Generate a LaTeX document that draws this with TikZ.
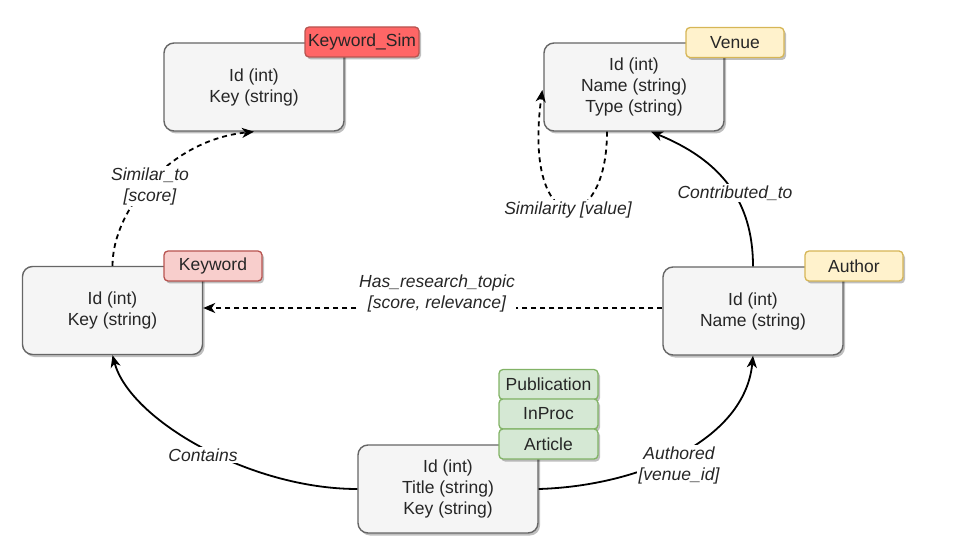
\documentclass[tikz,border=0pt]{standalone}
\usepackage{fontspec}
\setmainfont{Liberation Sans}
\usetikzlibrary{arrows.meta,shadows,calc}
\definecolor{entfill}{HTML}{F5F5F5}
\definecolor{entdraw}{HTML}{666666}
\definecolor{redfill}{HTML}{FF6666}
\definecolor{pinkfill}{HTML}{F8CECC}
\definecolor{reddraw}{HTML}{B85450}
\definecolor{yelfill}{HTML}{FFF2CC}
\definecolor{yeldraw}{HTML}{D6B656}
\definecolor{grnfill}{HTML}{D5E8D4}
\definecolor{grndraw}{HTML}{82B366}
\begin{document}
\begin{tikzpicture}[x=1pt,y=-1pt,
  every node/.style={font=\fontsize{17.5}{21}\selectfont, text=black!85},
  shad/.style={drop shadow={shadow xshift=2pt,shadow yshift=-2.5pt,opacity=0.25,fill=black}},
  entity/.style={shad, draw=entdraw, fill=entfill, line width=1.4pt, rounded corners=10pt,
    minimum width=180pt, minimum height=88pt, align=center, inner sep=2pt},
  tagbox/.style={shad, line width=1.3pt, rounded corners=4pt, minimum width=98pt,
    minimum height=30pt, inner sep=2pt},
  redtag/.style={tagbox, fill=redfill, draw=reddraw},
  pinktag/.style={tagbox, fill=pinkfill, draw=reddraw},
  yeltag/.style={tagbox, fill=yelfill, draw=yeldraw},
  grntag/.style={tagbox, fill=grnfill, draw=grndraw},
  edge/.style={line width=1.8pt, -{Stealth[length=12pt,width=10pt,inset=3.5pt]}},
  dedge/.style={edge, dash pattern=on 5pt off 4pt},
  lbl/.style={fill=white, align=center, font=\fontsize{17.5}{21}\selectfont\itshape, inner sep=1.5pt}
]
\useasboundingbox (0,0) rectangle (966,553);

% entities
\node[entity] (ks) at (254,87) {Id (int)\\Key (string)};
\node[entity] (ve) at (634,87) {Id (int)\\Name (string)\\Type (string)};
\node[entity] (kw) at (112.5,310.5) {Id (int)\\Key (string)};
\node[entity] (au) at (753,311) {Id (int)\\Name (string)};
\node[entity] (pu) at (448,489) {Id (int)\\Title (string)\\Key (string)};

% tags
\node[redtag, minimum width=114pt] (ksT) at (362,42) {Keyword\_Sim};
\node[yeltag] (veT) at (735,42.5) {Venue};
\node[pinktag] (kwT) at (213,266) {Keyword};
\node[yeltag] (auT) at (854,266) {Author};
\node[grntag, minimum width=99pt] (puT1) at (548.5,384.5) {Publication};
\node[grntag, minimum width=99pt] (puT2) at (548.5,414) {InProc};
\node[grntag, minimum width=99pt] (puT3) at (548.5,444) {Article};

% edges
\draw[dedge] (kw.north) .. controls (112.5,210) and (170,140) .. (ks.south);
\draw[dedge] (au.west |- 0,308) -- (kw.east |- 0,308);
\draw[edge] (au.north) .. controls (753,200) and (720,160) .. ($(ve.south)+(17,0)$);
\draw[dedge] ($(ve.south)+(-27,0)$) .. controls (607,240) and (522,240) .. ($(ve.west)+(-1,3)$);
\draw[edge] (pu.west) .. controls (250,489) and (130,420) .. (kw.south);
\draw[edge] (pu.east) .. controls (640,486) and (745,440) .. (au.south);

% edge labels
\node[lbl] (l1) at (150,186) {Similar\_to\\{}[score]};
\node[lbl] (l2) at (437,293) {Has\_research\_topic\\{}[score, relevance]};
\node[lbl] (l3) at (735,193) {Contributed\_to};
\node[lbl] (l4) at (568,210) {Similarity [value]};
\node[lbl] (l5) at (203,455) {Contains};
\node[lbl] (l6) at (679,465) {Authored\\{}[venue\_id]};
\end{tikzpicture}
\end{document}
